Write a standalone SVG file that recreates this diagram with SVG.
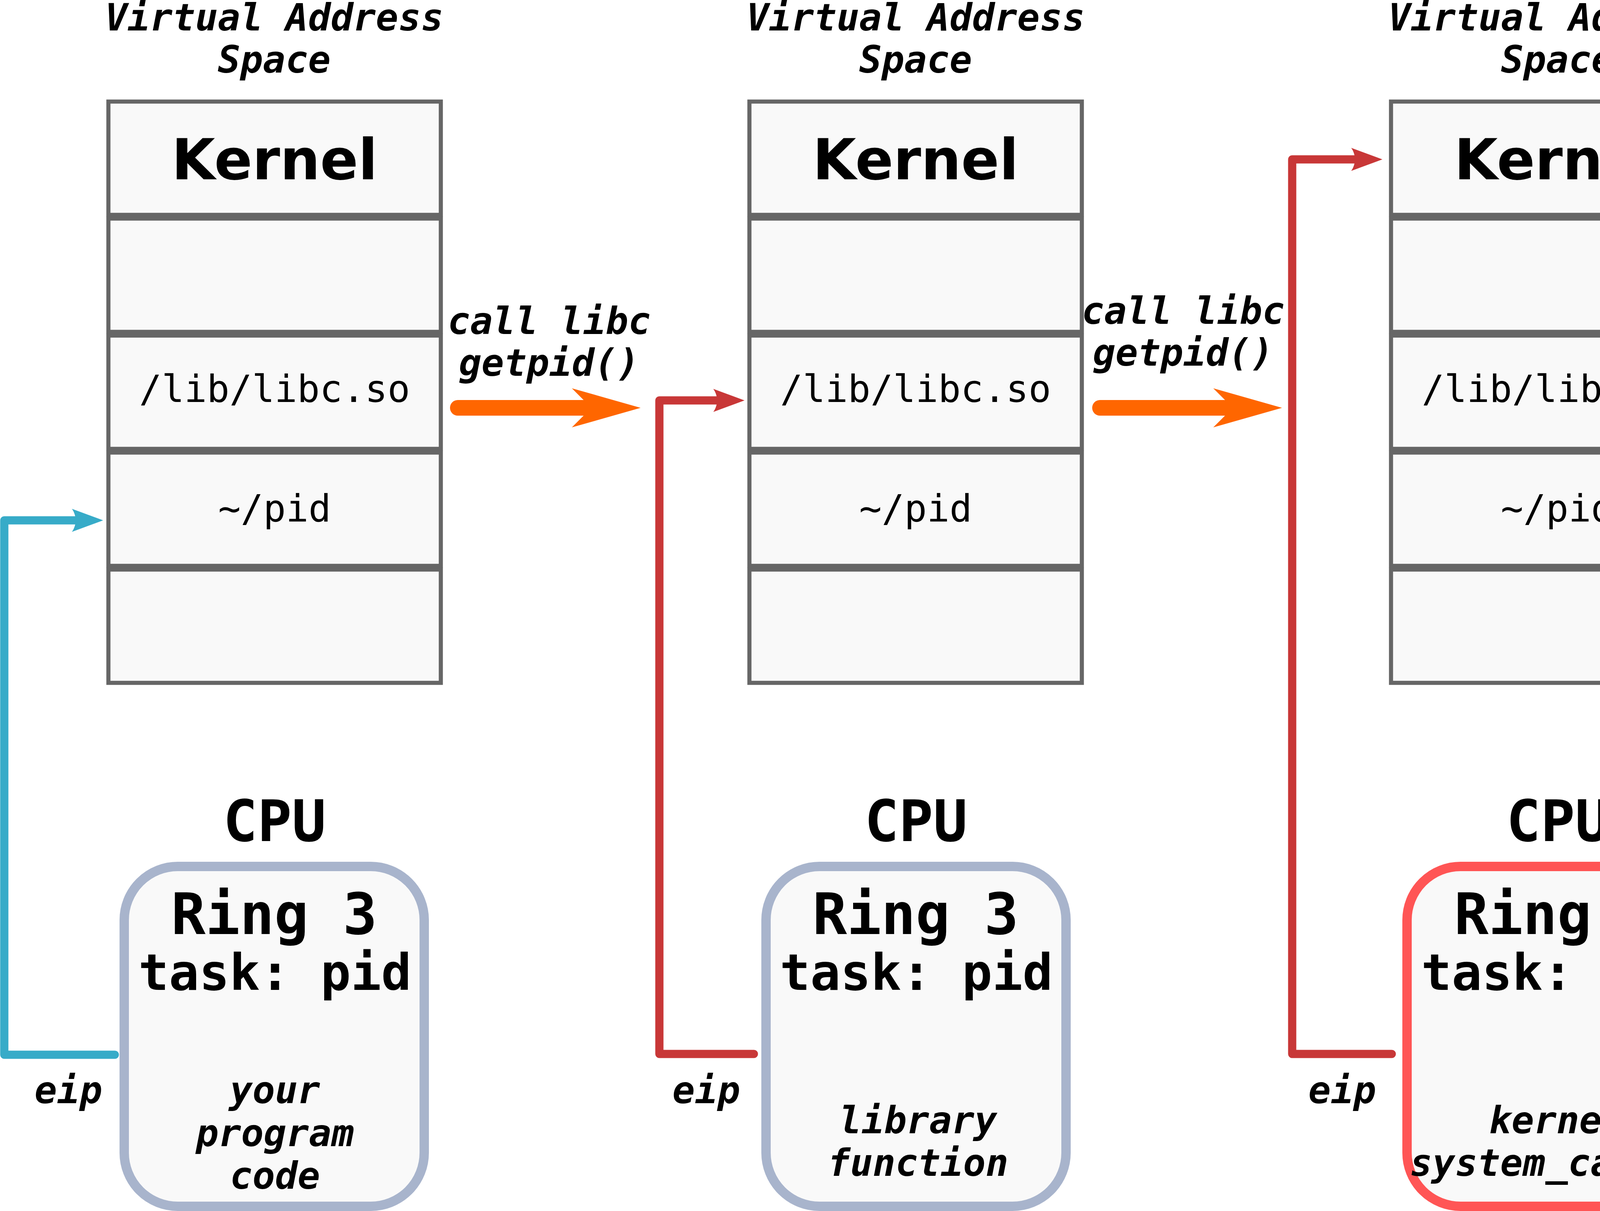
<svg xmlns="http://www.w3.org/2000/svg" width="6054" height="3100" viewBox="0 0 6054 3100">
<style>
.cell{fill:#f9f9f9;stroke:#666666;stroke-width:10.5}
.cpu{fill:#f9f9f9;stroke:#a8b4cc;stroke-width:24}
.cpu0{fill:#f9f9f9;stroke:#ff5555;stroke-width:24}
.kern{font-family:"DejaVu Sans","Liberation Sans",sans-serif;font-weight:bold;font-size:144px;text-anchor:middle;fill:#000}
.mono{font-family:"DejaVu Sans Mono","Liberation Mono",monospace;font-size:96px;text-anchor:middle;fill:#000}
.lab{font-family:"DejaVu Sans Mono","Liberation Mono",monospace;font-weight:bold;font-style:italic;font-size:96px;text-anchor:middle;fill:#000}
.big{font-family:"DejaVu Sans Mono","Liberation Mono",monospace;font-weight:bold;font-size:146px;text-anchor:middle;fill:#000}
.task{font-family:"DejaVu Sans Mono","Liberation Mono",monospace;font-weight:bold;font-size:129px;text-anchor:middle;fill:#000}
.red{fill:none;stroke:#c83737;stroke-width:21;stroke-linecap:round;stroke-linejoin:round;marker-end:url(#headRed)}
.blue{fill:none;stroke:#37abc8;stroke-width:21;stroke-linecap:round;stroke-linejoin:round;marker-end:url(#headBlue)}
.orange{fill:none;stroke:#ff6600;stroke-width:40;stroke-linecap:round;marker-end:url(#headOrange)}
</style>
<defs>
<marker id="headRed" markerUnits="userSpaceOnUse" orient="auto" refX="0" refY="0" markerWidth="1" markerHeight="1" overflow="visible">
<path d="M -15,29.5 L 65,0 L -15,-29.5 C -2.2,-11.9 -2.2,11.9 -15,29.5 Z" fill="#c83737"/>
</marker>
<marker id="headBlue" markerUnits="userSpaceOnUse" orient="auto" refX="0" refY="0" markerWidth="1" markerHeight="1" overflow="visible">
<path d="M -15,29.5 L 65,0 L -15,-29.5 C -2.2,-11.9 -2.2,11.9 -15,29.5 Z" fill="#37abc8"/>
</marker>
<marker id="headOrange" markerUnits="userSpaceOnUse" orient="auto" refX="0" refY="0" markerWidth="1" markerHeight="1" overflow="visible">
<path d="M 0,0 L -50,-50 L 126,0 L -50,50 Z" fill="#ff6600"/>
</marker>
</defs>
<rect width="6054" height="3100" fill="#ffffff"/>

<g id="vas1">
<text class="lab" x="702" y="78">Virtual Address</text>
<text class="lab" x="702" y="186">Space</text>
<rect class="cell" x="277.5" y="260" width="851" height="290"/>
<rect class="cell" x="277.5" y="559.5" width="851" height="290"/>
<rect class="cell" x="277.5" y="859" width="851" height="290"/>
<rect class="cell" x="277.5" y="1158.5" width="851" height="290"/>
<rect class="cell" x="277.5" y="1458" width="851" height="290"/>
<text class="kern" x="703" y="459">Kernel</text>
<text class="mono" x="703" y="1029">/lib/libc.so</text>
<text class="mono" x="703" y="1335">~/pid</text>
</g>

<g id="vas2">
<text class="lab" x="2344" y="78">Virtual Address</text>
<text class="lab" x="2344" y="186">Space</text>
<rect class="cell" x="1918.5" y="260" width="851" height="290"/>
<rect class="cell" x="1918.5" y="559.5" width="851" height="290"/>
<rect class="cell" x="1918.5" y="859" width="851" height="290"/>
<rect class="cell" x="1918.5" y="1158.5" width="851" height="290"/>
<rect class="cell" x="1918.5" y="1458" width="851" height="290"/>
<text class="kern" x="2344" y="459">Kernel</text>
<text class="mono" x="2344" y="1029">/lib/libc.so</text>
<text class="mono" x="2344" y="1335">~/pid</text>
</g>

<g id="vas3">
<text class="lab" x="3987" y="78">Virtual Address</text>
<text class="lab" x="3987" y="186">Space</text>
<rect class="cell" x="3561" y="260" width="851" height="290"/>
<rect class="cell" x="3561" y="559.5" width="851" height="290"/>
<rect class="cell" x="3561" y="859" width="851" height="290"/>
<rect class="cell" x="3561" y="1158.5" width="851" height="290"/>
<rect class="cell" x="3561" y="1458" width="851" height="290"/>
<text class="kern" x="3986.5" y="459">Kernel</text>
<text class="mono" x="3986.5" y="1029">/lib/libc.so</text>
<text class="mono" x="3986.5" y="1335">~/pid</text>
</g>

<g id="cpu1">
<text class="big" x="703" y="2153">CPU</text>
<rect class="cpu" x="318" y="2218" width="768" height="870" rx="137" ry="137"/>
<text class="big" x="702" y="2391">Ring 3</text>
<text class="task" x="704" y="2534">task: pid</text>
<text class="lab" x="704" y="2824">your</text>
<text class="lab" x="704" y="2934">program</text>
<text class="lab" x="704" y="3043">code</text>
</g>

<g id="cpu2">
<text class="big" x="2345" y="2153">CPU</text>
<rect class="cpu" x="1961" y="2218" width="768" height="870" rx="137" ry="137"/>
<text class="big" x="2344" y="2391">Ring 3</text>
<text class="task" x="2346" y="2534">task: pid</text>
<text class="lab" x="2350" y="2901">library</text>
<text class="lab" x="2350" y="3010">function</text>
</g>

<g id="cpu3">
<text class="big" x="3988" y="2153">CPU</text>
<rect class="cpu0" x="3602" y="2218" width="768" height="870" rx="137" ry="137"/>
<text class="big" x="3986.5" y="2391">Ring 0</text>
<text class="task" x="3988" y="2534">task: pid</text>
<text class="lab" x="3985" y="2901">kernel</text>
<text class="lab" x="3985" y="3010">system_call()</text>
</g>

<g id="labels">
<text class="lab" x="1406" y="855">call libc</text>
<text class="lab" x="1406" y="962">getpid()</text>
<text class="lab" x="3029" y="829">call libc</text>
<text class="lab" x="3029" y="936">getpid()</text>
<text class="lab" x="175" y="2824">eip</text>
<text class="lab" x="1808" y="2824">eip</text>
<text class="lab" x="3436" y="2824">eip</text>
</g>

<g id="connectors">
<path class="blue" d="M 294,2700 L 11,2700 L 11,1332 L 199,1332"/>
<path class="red" d="M 1930,2698 L 1688,2698 L 1688,1025 L 1841,1025"/>
<path class="red" d="M 3563,2698 L 3308,2698 L 3308,408 L 3474,408"/>
<path class="orange" d="M 1172,1044 L 1514,1044"/>
<path class="orange" d="M 2816,1044 L 3156,1044"/>
</g>

<g id="edge-mark" fill="#008066">
<rect x="6031" y="368" width="23" height="29" rx="11.5"/>
<rect x="6031" y="398" width="23" height="44" rx="11.5"/>
<rect x="6031" y="443" width="23" height="44" rx="11.5"/>
<rect x="6031" y="488" width="23" height="45" rx="11.5"/>
</g>
</svg>
